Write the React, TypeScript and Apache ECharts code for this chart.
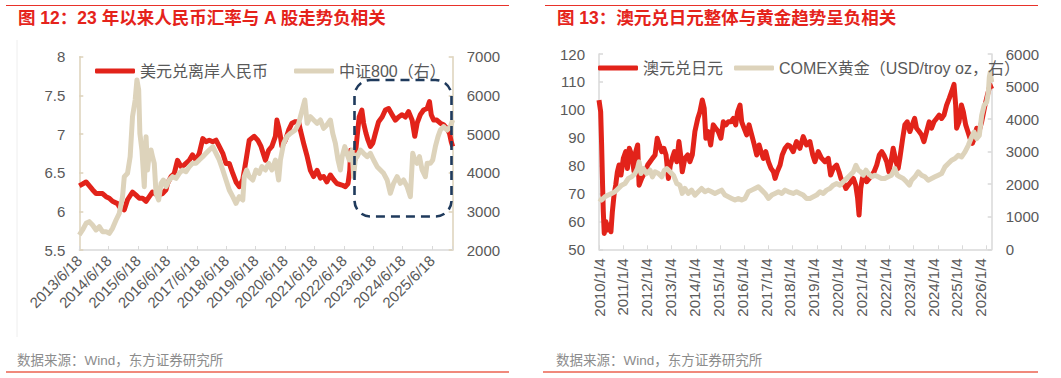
import React, { useEffect, useRef } from "react";
import * as echarts from "echarts";

// ---------- Figure 12 (left) ----------
const leftTitle = "图 12：23 年以来人民币汇率与 A 股走势负相关";
const leftLabels = [
  "2013/6/18", "2014/6/18", "2015/6/18", "2016/6/18", "2017/6/18", "2018/6/18", "2019/6/18",
  "2020/6/18", "2021/6/18", "2022/6/18", "2023/6/18", "2024/6/18", "2025/6/18",
];
const leftXMax = 12.7;
const usdCnhName = "美元兑离岸人民币";
// [position in years since 2013/6/18, value]
const usdCnh: [number, number][] = [
  [0, 6.33], [0.23, 6.38], [0.45, 6.28], [0.57, 6.23], [0.79, 6.23], [0.91, 6.19], [1.02, 6.17],
  [1.13, 6.13], [1.3, 6.1], [1.36, 6.06], [1.53, 6.02], [1.64, 6.15], [1.81, 6.25], [1.93, 6.21],
  [2.04, 6.17], [2.15, 6.17], [2.27, 6.13], [2.38, 6.19], [2.49, 6.25], [2.66, 6.21], [2.83, 6.23],
  [2.95, 6.28], [3.0, 6.36], [3.12, 6.45], [3.23, 6.49], [3.34, 6.66], [3.46, 6.58], [3.57, 6.6],
  [3.74, 6.66], [3.85, 6.73], [3.97, 6.66], [4.08, 6.75], [4.2, 6.94], [4.31, 6.9], [4.42, 6.92],
  [4.54, 6.9], [4.65, 6.92], [4.76, 6.84], [4.88, 6.75], [4.99, 6.62], [5.1, 6.62], [5.22, 6.49],
  [5.33, 6.38], [5.44, 6.32], [5.56, 6.41], [5.67, 6.66], [5.78, 6.92], [5.95, 6.97], [6.07, 6.92],
  [6.18, 6.84], [6.33, 6.66], [6.44, 6.79], [6.55, 6.84], [6.67, 6.97], [6.72, 7.18], [6.78, 7.09],
  [6.84, 6.97], [6.89, 6.84], [7.01, 6.92], [7.12, 7.05], [7.23, 7.14], [7.35, 7.16], [7.46, 7.16],
  [7.52, 7.05], [7.63, 6.88], [7.75, 6.71], [7.86, 6.53], [7.97, 6.45], [8.09, 6.53], [8.2, 6.43],
  [8.31, 6.45], [8.42, 6.38], [8.54, 6.47], [8.65, 6.41], [8.76, 6.36], [8.93, 6.34], [9.05, 6.32],
  [9.14, 6.36], [9.2, 6.53], [9.23, 6.79], [9.3, 6.75], [9.37, 6.66], [9.45, 6.97], [9.52, 7.22],
  [9.61, 7.31], [9.67, 7.14], [9.75, 7.01], [9.82, 6.92], [9.9, 6.84], [9.98, 6.88], [10.07, 7.01],
  [10.18, 7.16], [10.3, 7.22], [10.41, 7.31], [10.52, 7.33], [10.64, 7.25], [10.75, 7.18],
  [10.86, 7.22], [10.98, 7.25], [11.09, 7.22], [11.2, 7.29], [11.32, 7.18], [11.41, 6.97],
  [11.49, 7.14], [11.6, 7.25], [11.71, 7.31], [11.83, 7.33], [11.91, 7.42], [11.97, 7.25],
  [12.05, 7.18], [12.16, 7.18], [12.28, 7.14], [12.39, 7.12], [12.51, 7.07], [12.59, 7.01],
  [12.65, 6.9], [12.7, 6.84],
];
const csi800Name = "中证800（右）";
const csi800: [number, number][] = [
  [0, 2388], [0.11, 2518], [0.23, 2690], [0.34, 2733], [0.45, 2647], [0.57, 2518], [0.68, 2604],
  [0.79, 2475], [0.91, 2475], [1.02, 2431], [1.13, 2561], [1.25, 2776], [1.36, 2948], [1.47, 3379],
  [1.53, 3897], [1.64, 3983], [1.73, 4414], [1.81, 5448], [1.9, 5879], [1.96, 6397], [2.02, 6138],
  [2.06, 5017], [2.13, 4586], [2.21, 3638], [2.27, 4931], [2.32, 4069], [2.38, 4500], [2.44, 4586],
  [2.49, 4414], [2.55, 4242], [2.61, 3466], [2.7, 3293], [2.78, 3724], [2.86, 3810], [2.95, 3638],
  [3.06, 3810], [3.17, 3897], [3.29, 3854], [3.4, 3983], [3.51, 4069], [3.63, 4026], [3.74, 4155],
  [3.85, 4242], [3.97, 4242], [4.08, 4328], [4.2, 4414], [4.31, 4500], [4.42, 4586], [4.54, 4672],
  [4.65, 4500], [4.76, 4328], [4.88, 4069], [4.99, 3810], [5.1, 3552], [5.22, 3379], [5.33, 3207],
  [5.44, 3379], [5.56, 3293], [5.61, 3897], [5.69, 4069], [5.78, 3897], [5.9, 3810], [6.01, 4069],
  [6.12, 3983], [6.21, 4155], [6.33, 4069], [6.44, 4242], [6.55, 4069], [6.67, 4328], [6.78, 3810],
  [6.84, 4328], [6.95, 4759], [7.06, 4931], [7.18, 5017], [7.35, 5104], [7.46, 5276], [7.55, 5535],
  [7.67, 5879], [7.75, 5276], [7.86, 5448], [7.97, 5362], [8.09, 5276], [8.2, 5362], [8.31, 5147],
  [8.42, 5233], [8.54, 5362], [8.62, 5017], [8.71, 4759], [8.8, 4328], [8.88, 4069], [8.94, 4414],
  [9.03, 4673], [9.1, 4500], [9.18, 4328], [9.28, 4586], [9.33, 3900], [9.4, 4450], [9.45, 4414],
  [9.56, 4586], [9.67, 4500], [9.79, 4414], [9.9, 4500], [10.01, 4328], [10.13, 4155],
  [10.24, 4069], [10.35, 3983], [10.47, 3810], [10.58, 3466], [10.69, 3724], [10.81, 3897],
  [10.92, 3724], [11.03, 3810], [11.15, 3638], [11.26, 3379], [11.34, 4500], [11.41, 4328],
  [11.49, 4242], [11.57, 4414], [11.66, 4069], [11.77, 3897], [11.83, 4242], [11.94, 4242],
  [12.02, 4328], [12.11, 4673], [12.2, 4931], [12.28, 5104], [12.39, 5190], [12.51, 5104],
  [12.62, 5190], [12.7, 5362],
];

// ---------- Figure 13 (right) ----------
const rightTitle = "图 13：澳元兑日元整体与黄金趋势呈负相关";
const rightLabels = [
  "2010/1/4", "2011/1/4", "2012/1/4", "2013/1/4", "2014/1/4", "2015/1/4", "2016/1/4", "2017/1/4",
  "2018/1/4", "2019/1/4", "2020/1/4", "2021/1/4", "2022/1/4", "2023/1/4", "2024/1/4", "2025/1/4",
  "2026/1/4",
];
const rightXMax = 16.46;
const rightTickStep = 1.0143;
const audJpyName = "澳元兑日元";
const audJpy: [number, number][] = [
  [0, 103.5], [0.07, 99.3], [0.11, 87.4], [0.15, 73], [0.18, 63.5], [0.22, 55.7], [0.29, 59.9],
  [0.36, 56.9], [0.43, 58.7], [0.5, 56.3], [0.56, 63.5], [0.63, 69.5], [0.7, 73], [0.77, 77.8],
  [0.84, 80.2], [0.92, 76.6], [1.02, 82.6], [1.12, 85], [1.19, 79], [1.27, 86.2], [1.37, 83.8],
  [1.47, 77.8], [1.54, 85], [1.62, 87.4], [1.68, 73], [1.79, 75.4], [1.93, 77.8], [2.04, 80.2],
  [2.14, 81.4], [2.24, 82.6], [2.35, 83.8], [2.44, 89.8], [2.53, 87.4], [2.63, 85], [2.72, 86.2],
  [2.81, 83.8], [2.91, 75.4], [2.99, 80.2], [3.07, 82.6], [3.16, 85], [3.26, 81.4], [3.35, 88.6],
  [3.44, 82.6], [3.49, 77.8], [3.6, 82.6], [3.72, 83.8], [3.81, 81.4], [3.91, 83.8], [4.02, 92.2],
  [4.14, 96.9], [4.23, 99.3], [4.33, 103.5], [4.41, 100.5], [4.48, 89.8], [4.58, 92.2],
  [4.68, 87.4], [4.79, 94.6], [4.89, 93.4], [5.0, 92.2], [5.11, 89.8], [5.21, 95.7], [5.32, 94.6],
  [5.42, 95.7], [5.53, 95.7], [5.63, 96.9], [5.73, 94.6], [5.81, 99.3], [5.91, 101.7],
  [5.98, 95.7], [6.08, 93.4], [6.19, 91], [6.29, 94.6], [6.4, 91], [6.51, 87.4], [6.61, 83.8],
  [6.71, 87.4], [6.79, 85], [6.89, 82.6], [6.99, 85], [7.1, 81.4], [7.21, 79], [7.31, 77.8],
  [7.38, 75.4], [7.47, 77.8], [7.59, 80.2], [7.68, 83.8], [7.8, 86.2], [7.91, 87.4], [8.0, 87],
  [8.14, 85], [8.28, 88.6], [8.42, 86.2], [8.56, 90.4], [8.7, 87.4], [8.84, 88.6], [8.96, 83.8],
  [9.05, 81.4], [9.19, 85], [9.33, 82.6], [9.47, 81.4], [9.61, 82.6], [9.71, 76.6], [9.82, 79],
  [9.96, 80.2], [10.06, 77.8], [10.14, 75.4], [10.24, 74.2], [10.35, 71.8], [10.45, 73],
  [10.56, 74.2], [10.66, 75.4], [10.76, 73], [10.84, 68.3], [10.9, 62.3], [10.97, 71.8],
  [11.04, 75.4], [11.11, 76.6], [11.22, 74.2], [11.33, 75.4], [11.43, 76.6], [11.53, 77.8],
  [11.64, 80.2], [11.75, 83.8], [11.85, 85], [11.94, 83.8], [12.06, 81.4], [12.15, 77.8],
  [12.24, 81.4], [12.33, 86.2], [12.45, 81.4], [12.54, 79], [12.61, 82.6], [12.73, 89.8],
  [12.82, 94.6], [12.92, 95.7], [13.03, 92.2], [13.13, 94.6], [13.23, 96.9], [13.31, 93.4],
  [13.42, 92.2], [13.52, 91], [13.62, 88.6], [13.73, 92.2], [13.84, 95.7], [13.94, 93.4],
  [14.04, 95.7], [14.15, 96.9], [14.26, 98.1], [14.36, 96.9], [14.46, 98.1], [14.57, 101.7],
  [14.68, 104.1], [14.78, 106.5], [14.88, 109.1], [14.95, 101.7], [14.99, 93.4], [15.09, 95.7],
  [15.19, 101.7], [15.27, 99.3], [15.37, 94.6], [15.46, 92.2], [15.55, 89.8], [15.65, 88],
  [15.73, 89.8], [15.83, 93.4], [15.92, 92], [16.04, 95.7], [16.18, 101.7], [16.28, 105.3],
  [16.39, 108.9], [16.46, 107.5],
];
const goldName = "COMEX黄金（USD/troy oz，右）";
const gold: [number, number][] = [
  [0, 1563], [0.11, 1512], [0.25, 1614], [0.39, 1665], [0.53, 1716], [0.67, 1767], [0.81, 1869],
  [0.95, 1971], [1.09, 2022], [1.23, 2175], [1.37, 2226], [1.51, 2328], [1.61, 2481], [1.68, 2685],
  [1.76, 2328], [1.86, 2481], [2.0, 2328], [2.14, 2430], [2.24, 2226], [2.35, 2379], [2.49, 2328],
  [2.63, 2226], [2.74, 2430], [2.84, 2481], [2.98, 2379], [3.12, 2277], [3.26, 2022], [3.39, 1971],
  [3.49, 1716], [3.6, 1869], [3.74, 1716], [3.88, 1818], [4.02, 1665], [4.16, 1767], [4.3, 1869],
  [4.44, 1767], [4.58, 1818], [4.72, 1767], [4.86, 1716], [5.0, 1767], [5.14, 1818], [5.28, 1665],
  [5.42, 1614], [5.56, 1563], [5.7, 1512], [5.84, 1563], [5.98, 1512], [6.12, 1563], [6.26, 1767],
  [6.4, 1818], [6.54, 1869], [6.68, 1920], [6.82, 1818], [6.96, 1716], [7.1, 1563], [7.24, 1665],
  [7.38, 1716], [7.52, 1767], [7.66, 1716], [7.8, 1818], [7.94, 1767], [8.14, 1716], [8.28, 1767],
  [8.42, 1716], [8.56, 1665], [8.7, 1563], [8.84, 1563], [8.98, 1614], [9.12, 1665], [9.26, 1767],
  [9.4, 1716], [9.54, 1818], [9.68, 1869], [9.82, 1971], [9.96, 2022], [10.1, 1971], [10.24, 2073],
  [10.38, 2175], [10.52, 2277], [10.66, 2379], [10.77, 2583], [10.87, 2430], [10.97, 2379],
  [11.08, 2277], [11.19, 2430], [11.29, 2328], [11.43, 2226], [11.56, 2277], [11.7, 2226],
  [11.84, 2175], [11.98, 2175], [12.12, 2226], [12.26, 2277], [12.4, 2481], [12.5, 2277],
  [12.61, 2226], [12.75, 2175], [12.89, 2073], [13.01, 1971], [13.1, 2124], [13.24, 2226],
  [13.38, 2379], [13.52, 2277], [13.66, 2226], [13.8, 2124], [13.94, 2175], [14.08, 2226],
  [14.22, 2277], [14.36, 2328], [14.5, 2532], [14.64, 2634], [14.78, 2736], [14.92, 2787],
  [15.06, 2889], [15.2, 2838], [15.34, 2991], [15.48, 3195], [15.62, 3450], [15.72, 3603],
  [15.83, 3399], [15.94, 3501], [16.04, 4113], [16.14, 4419], [16.25, 4521], [16.32, 4827],
  [16.36, 5286], [16.4, 5439], [16.46, 5133],
];

const sourceText = "数据来源：Wind，东方证券研究所";

const RED = "#e2231a";
const BEIGE = "#ddd3bb";
const TITLE_RED = "#e5231b";
const LABEL = "#595959";
const FONT = '"Liberation Sans", Arial, "Noto Sans CJK SC", sans-serif';

export default function App() {
  const ref = useRef<HTMLDivElement>(null);
  useEffect(() => {
    document.body.style.margin = "0";
    if (!ref.current) return;
    const chart = echarts.init(ref.current, undefined, { renderer: "svg" });

    const axisLabelStyle = { color: LABEL, fontSize: 15, fontFamily: FONT };
    const yAxisCommon = (color: string) => ({
      axisLine: { show: true, lineStyle: { color, width: 1.5 } },
      axisTick: { show: true, inside: true, length: 4, lineStyle: { color, width: 1.5 } },
      splitLine: { show: false },
      axisLabel: { ...axisLabelStyle, margin: 14, formatter: (v: number) => String(v) },
    });

    const option: any = {
      animation: false,
      textStyle: { fontFamily: FONT },
      grid: [
        { left: 79.3, top: 56.7, width: 373.4, height: 193.3 },
        { left: 599, top: 54, width: 392.7, height: 195.3 },
      ],
      legend: [
        {
          left: 90, top: 58, itemWidth: 40, itemHeight: 5, itemGap: 26, icon: "roundRect",
          textStyle: { fontSize: 16, color: LABEL, fontFamily: FONT },
          data: [usdCnhName, csi800Name],
        },
        {
          left: 593, top: 55, itemWidth: 40, itemHeight: 5, itemGap: 11, icon: "roundRect",
          textStyle: { fontSize: 16, color: LABEL, fontFamily: FONT },
          data: [audJpyName, goldName],
        },
      ],
      xAxis: [
        {
          type: "value", gridIndex: 0, min: 0, max: leftXMax, interval: 1,
          axisLine: { show: true, onZero: false, lineStyle: { color: "#d9d9d9", width: 1.5 } },
          axisTick: { show: true, inside: true, length: 4, lineStyle: { color: "#d9d9d9" } },
          splitLine: { show: false },
          axisLabel: {
            ...axisLabelStyle, rotate: 45, margin: 8, showMaxLabel: true,
            formatter: (v: number) => (Math.abs(v - Math.round(v)) < 1e-6 ? leftLabels[Math.round(v)] ?? "" : ""),
          },
        },
        {
          type: "value", gridIndex: 1, min: 0, max: rightXMax, interval: 1,
          axisLine: { show: true, onZero: false, lineStyle: { color: "#d9d9d9", width: 1.5 } },
          axisTick: {
            show: true, inside: true, length: 4, lineStyle: { color: "#d9d9d9" },
            customValues: rightLabels.map((_, i) => i * rightTickStep),
          },
          splitLine: { show: false },
          axisLabel: {
            ...axisLabelStyle, rotate: 90, margin: 9,
            formatter: (v: number) => (Math.abs(v - Math.round(v)) < 1e-6 ? rightLabels[Math.round(v)] ?? "" : ""),
          },
        },
      ],
      yAxis: [
        { type: "value", gridIndex: 0, min: 5.5, max: 8, interval: 0.5, ...yAxisCommon("#ddd2ba") },
        { type: "value", gridIndex: 0, position: "right", min: 2000, max: 7000, interval: 1000, ...yAxisCommon("#ddd2ba") },
        { type: "value", gridIndex: 1, min: 50, max: 120, interval: 10, ...yAxisCommon("#d9d9d9") },
        { type: "value", gridIndex: 1, position: "right", min: 0, max: 6000, interval: 1000, ...yAxisCommon("#d9d9d9") },
      ],
      series: [
        {
          name: usdCnhName, type: "line", xAxisIndex: 0, yAxisIndex: 0, data: usdCnh,
          showSymbol: false, color: RED, lineStyle: { color: RED, width: 5, join: "round" }, z: 2,
        },
        {
          name: csi800Name, type: "line", xAxisIndex: 0, yAxisIndex: 1, data: csi800,
          showSymbol: false, color: BEIGE, lineStyle: { color: BEIGE, width: 5, join: "round" }, z: 3,
        },
        {
          name: audJpyName, type: "line", xAxisIndex: 1, yAxisIndex: 2, data: audJpy,
          showSymbol: false, color: RED, lineStyle: { color: RED, width: 5, join: "round" }, z: 2,
        },
        {
          name: goldName, type: "line", xAxisIndex: 1, yAxisIndex: 3, data: gold,
          showSymbol: false, color: BEIGE, lineStyle: { color: BEIGE, width: 5, join: "round" }, z: 3,
        },
      ],
      graphic: [
        { type: "line", shape: { x1: 6, y1: 5.5, x2: 509, y2: 5.5 }, style: { stroke: "#e8322a", lineWidth: 1.2 } },
        { type: "line", shape: { x1: 545, y1: 5.5, x2: 1038, y2: 5.5 }, style: { stroke: "#e8322a", lineWidth: 1.2 } },
        {
          type: "text", left: 18, top: 9,
          style: { text: leftTitle, fill: TITLE_RED, fontSize: 17.5, fontFamily: FONT, fontWeight: "bold" },
        },
        {
          type: "text", left: 557, top: 9,
          style: { text: rightTitle, fill: TITLE_RED, fontSize: 17.5, fontFamily: FONT, fontWeight: "bold" },
        },
        { type: "line", shape: { x1: 17, y1: 40, x2: 17, y2: 337 }, style: { stroke: "#eeeeee", lineWidth: 1 } },
        {
          type: "rect", z: 100,
          shape: { x: 354.5, y: 80, width: 97, height: 136.5, r: 16 },
          style: { fill: "none", stroke: "#1f3a5c", lineWidth: 2.6, lineDash: [9, 6] },
        },
        {
          type: "text", left: 17, top: 354,
          style: { text: sourceText, fill: "#8c8c8c", fontSize: 13.5, fontFamily: FONT },
        },
        {
          type: "text", left: 556, top: 354,
          style: { text: sourceText, fill: "#8c8c8c", fontSize: 13.5, fontFamily: FONT },
        },
        { type: "line", shape: { x1: 6, y1: 372, x2: 509, y2: 372 }, style: { stroke: "#f08a7c", lineWidth: 2 } },
        { type: "line", shape: { x1: 543, y1: 372, x2: 1038, y2: 372 }, style: { stroke: "#f08a7c", lineWidth: 2 } },
      ],
    };
    chart.setOption(option);
    return () => chart.dispose();
  }, []);
  return <div ref={ref} style={{ width: 1061, height: 378 }} />;
}
